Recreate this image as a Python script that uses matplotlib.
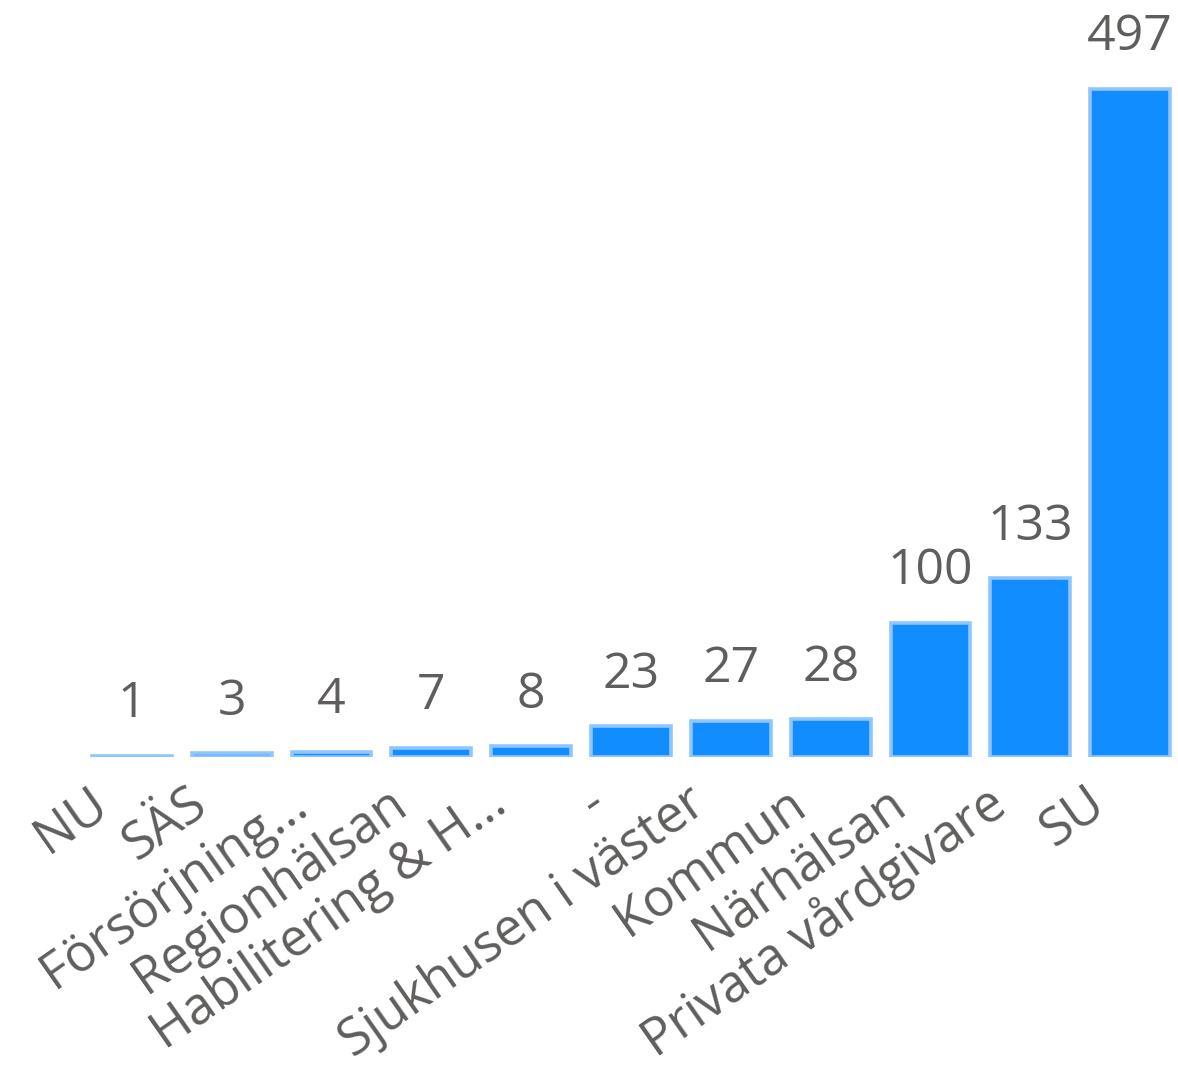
"""Bar chart of counts per care provider (Power BI style)."""
import matplotlib

matplotlib.use("Agg")
import matplotlib.pyplot as plt  # noqa: E402
import matplotlib.transforms as mtransforms  # noqa: E402

BAR_FILL = "#118dff"
BAR_EDGE = "#8fc6ff"
TEXT_GRAY = "#605e5c"

categories = [
    "NU",
    "SÄS",
    "Försörjning...",
    "Regionhälsan",
    "Habilitering & H...",
    "-",
    "Sjukhusen i väster",
    "Kommun",
    "Närhälsan",
    "Privata vårdgivare",
    "SU",
]
values = [1, 3, 4, 7, 8, 23, 27, 28, 100, 133, 497]

plt.rcParams["font.family"] = ["Open Sans", "DejaVu Sans"]

fig = plt.figure(figsize=(11.78, 10.69), dpi=100)
W, H = 1178, 1069
ax = fig.add_axes([82 / W, 1 - 757 / H, 1098 / W, 737 / H])

x = list(range(len(categories)))
bars = ax.bar(x, values, width=0.8, color=BAR_FILL, edgecolor=BAR_EDGE, linewidth=2.6)

for rect, val in zip(bars, values):
    ax.annotate(
        f"{val}",
        (rect.get_x() + rect.get_width() / 2, rect.get_height()),
        xytext=(0, 19),
        textcoords="offset points",
        ha="center",
        va="bottom",
        fontsize=36,
        color=TEXT_GRAY,
    )

ax.set_xlim(-0.5, 10.5)
ax.set_ylim(0, 548)
ax.set_xticks(x)
ax.set_xticklabels(categories, rotation=35, ha="right", va="center", rotation_mode="anchor",
                   fontsize=37, color=TEXT_GRAY)
ax.tick_params(axis="x", length=0, pad=30)
ax.set_yticks([])
for spine in ax.spines.values():
    spine.set_visible(False)

shift = mtransforms.ScaledTranslation(-30 / 100, 0, fig.dpi_scale_trans)
for lbl in ax.get_xticklabels():
    lbl.set_transform(lbl.get_transform() + shift)

fig.savefig("out.png", dpi=100, facecolor="white")
